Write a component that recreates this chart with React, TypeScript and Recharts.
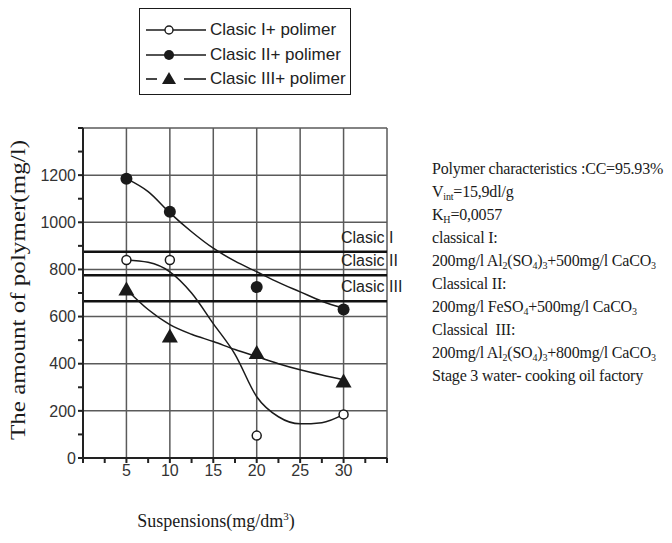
import React from 'react';
import {
  ComposedChart,
  Line,
  Scatter,
  XAxis,
  YAxis,
  CartesianGrid,
  ReferenceLine,
} from 'recharts';

// measured points
const suspensions = [5, 10, 20, 30];
const clasic1Points = [840, 840, 95, 185];
const clasic2Points = [1185, 1045, 725, 630];
const clasic3Points = [715, 515, 445, 325];

// fitted curves, read every 2.5 mg/dm3
const curveX = [5, 7.5, 10, 12.5, 15, 17.5, 20, 22.5, 25, 27.5, 30];
const clasic1Curve = [840, 830, 790, 700, 570, 440, 260, 175, 145, 150, 185];
const clasic2Curve = [1185, 1130, 1040, 960, 890, 835, 790, 745, 705, 665, 635];
const clasic3Curve = [715, 630, 566, 525, 494, 460, 430, 400, 374, 352, 332];

// classical treatment levels
const classicNames = ['Clasic I', 'Clasic II', 'Clasic III'];
const classicLevels = [875, 775, 665];

const xTicks = [0, 2.5, 5, 7.5, 10, 12.5, 15, 17.5, 20, 22.5, 25, 27.5, 30, 32.5, 35];
const yTicks = [0, 100, 200, 300, 400, 500, 600, 700, 800, 900, 1000, 1100, 1200, 1300, 1400];
const xGrid = [5, 10, 15, 20, 25, 30, 35];
const yGrid = [200, 400, 600, 800, 1000, 1200, 1400];

const legendNames = ['Clasic I+ polimer', 'Clasic II+ polimer', 'Clasic III+ polimer'];

const Sub = ({ children }: { children: React.ReactNode }) => (
  <span style={{ fontSize: 10, verticalAlign: -3, lineHeight: 0 }}>{children}</span>
);

const notes: React.ReactNode[] = [
  'Polymer characteristics :CC=95.93%',
  <>V<Sub>int</Sub>=15,9dl/g</>,
  <>K<Sub>H</Sub>=0,0057</>,
  'classical I:',
  <>200mg/l Al<Sub>2</Sub>(SO<Sub>4</Sub>)<Sub>3</Sub>+500mg/l CaCO<Sub>3</Sub></>,
  'Classical II:',
  <>200mg/l FeSO<Sub>4</Sub>+500mg/l CaCO<Sub>3</Sub></>,
  'Classical  III:',
  <>200mg/l Al<Sub>2</Sub>(SO<Sub>4</Sub>)<Sub>3</Sub>+800mg/l CaCO<Sub>3</Sub></>,
  'Stage 3 water- cooking oil factory',
];

const toRows = (xs: number[], ys: number[]) => xs.map((x, i) => ({ x, y: ys[i] }));

const INK = '#1a1a1a';
const SANS = '"Liberation Sans", Arial, sans-serif';
const SERIF = '"Liberation Serif", "Times New Roman", serif';

const OpenDot = (p: any) => (
  <circle cx={p.cx} cy={p.cy} r={4.5} fill="#fff" stroke={INK} strokeWidth={1.5} />
);
const FullDot = (p: any) => <circle cx={p.cx} cy={p.cy} r={6} fill={INK} />;
const Tri = (p: any) => (
  <path
    d={`M${p.cx},${p.cy - 8} L${p.cx + 8},${p.cy + 6} L${p.cx - 8},${p.cy + 6} Z`}
    fill={INK}
  />
);

const levelTag = (name: string) => (props: any) => {
  const vb = props.viewBox;
  return (
    <text
      x={vb.x + vb.width - 46}
      y={vb.y - 9}
      fontFamily={SANS}
      fontSize={16}
      fill="#222"
    >
      {name}
    </text>
  );
};

const LegendMark = ({ kind }: { kind: number }) => (
  <svg width={64} height={20} style={{ display: 'block' }}>
    {kind === 2 ? (
      <>
        <line x1={2} y1={10} x2={13} y2={10} stroke={INK} strokeWidth={1.6} />
        <line x1={40} y1={10} x2={62} y2={10} stroke={INK} strokeWidth={1.6} />
        <path d="M25,3 L32,15 L18,15 Z" fill={INK} />
      </>
    ) : (
      <>
        <line x1={2} y1={10} x2={62} y2={10} stroke={INK} strokeWidth={1.6} />
        {kind === 0 ? (
          <circle cx={25} cy={10} r={4} fill="#fff" stroke={INK} strokeWidth={1.4} />
        ) : (
          <circle cx={25} cy={10} r={5} fill={INK} />
        )}
      </>
    )}
  </svg>
);

export default function App() {
  return (
    <div
      style={{
        position: 'absolute',
        left: 0,
        top: 0,
        width: 672,
        height: 543,
        background: '#fff',
        overflow: 'hidden',
      }}
    >
      <ComposedChart
        width={672}
        height={543}
        margin={{ top: 128, right: 285, bottom: 45, left: 23 }}
      >
        <CartesianGrid
          stroke="#5a5a5a"
          strokeWidth={1.5}
          horizontalValues={yGrid}
          verticalValues={xGrid}
        />
        <XAxis
          type="number"
          dataKey="x"
          domain={[0, 35]}
          ticks={xTicks}
          height={40}
          tickSize={5}
          tickFormatter={(v: number) => (v % 5 === 0 && v >= 5 && v <= 30 ? String(v) : '')}
          tick={{ fontFamily: SANS, fontSize: 16, fill: '#333' }}
          stroke="#222"
          strokeWidth={2}
          allowDataOverflow
        />
        <YAxis
          type="number"
          domain={[0, 1400]}
          ticks={yTicks}
          width={60}
          tickSize={5}
          tickFormatter={(v: number) => (v % 200 === 0 && v <= 1200 ? String(v) : '')}
          tick={{ fontFamily: SANS, fontSize: 16, fill: '#333' }}
          stroke="#222"
          strokeWidth={2}
          allowDataOverflow
        />
        {classicLevels.map((lv, i) => (
          <ReferenceLine
            key={classicNames[i]}
            y={lv}
            stroke="#111"
            strokeWidth={2.5}
            label={levelTag(classicNames[i])}
          />
        ))}
        <Line
          data={toRows(curveX, clasic1Curve)}
          dataKey="y"
          type="monotone"
          stroke={INK}
          strokeWidth={1.5}
          dot={false}
          isAnimationActive={false}
        />
        <Line
          data={toRows(curveX, clasic2Curve)}
          dataKey="y"
          type="monotone"
          stroke={INK}
          strokeWidth={1.5}
          dot={false}
          isAnimationActive={false}
        />
        <Line
          data={toRows(curveX, clasic3Curve)}
          dataKey="y"
          type="monotone"
          stroke={INK}
          strokeWidth={1.5}
          dot={false}
          isAnimationActive={false}
        />
        <Scatter
          data={toRows(suspensions, clasic1Points)}
          dataKey="y"
          shape={OpenDot}
          isAnimationActive={false}
        />
        <Scatter
          data={toRows(suspensions, clasic2Points)}
          dataKey="y"
          shape={FullDot}
          isAnimationActive={false}
        />
        <Scatter
          data={toRows(suspensions, clasic3Points)}
          dataKey="y"
          shape={Tri}
          isAnimationActive={false}
        />
      </ComposedChart>

      {/* axis titles */}
      <svg
        width={672}
        height={543}
        style={{ position: 'absolute', left: 0, top: 0, pointerEvents: 'none' }}
      >
        <text
          transform="translate(25,290) rotate(-90)"
          textAnchor="middle"
          fontFamily={SERIF}
          fontSize={21}
          textLength={300}
          lengthAdjust="spacingAndGlyphs"
          fill={INK}
        >
          The amount of polymer(mg/l)
        </text>
        <text
          x={216}
          y={527}
          textAnchor="middle"
          fontFamily={SERIF}
          fontSize={18}
          fill={INK}
        >
          Suspensions(mg/dm<tspan dy={-7} fontSize={11}>3</tspan>
          <tspan dy={7}>)</tspan>
        </text>
      </svg>

      {/* legend box */}
      <div
        style={{
          position: 'absolute',
          left: 139,
          top: 8,
          width: 212,
          height: 87,
          border: `1.5px solid ${INK}`,
          boxSizing: 'border-box',
          paddingTop: 9,
          paddingLeft: 4,
        }}
      >
        {legendNames.map((name, i) => (
          <div
            key={name}
            style={{ display: 'flex', alignItems: 'center', height: 24.5 }}
          >
            <LegendMark kind={i} />
            <span style={{ fontFamily: SANS, fontSize: 17, color: '#222', marginLeft: 2 }}>
              {name}
            </span>
          </div>
        ))}
      </div>

      {/* notes */}
      <div
        style={{
          position: 'absolute',
          left: 432,
          top: 157,
          fontFamily: SERIF,
          fontSize: 16,
          lineHeight: '23px',
          color: INK,
          whiteSpace: 'pre',
          letterSpacing: -0.2,
        }}
      >
        {notes.map((n, i) => (
          <div key={i} style={{ height: 23 }}>
            {n}
          </div>
        ))}
      </div>
    </div>
  );
}
